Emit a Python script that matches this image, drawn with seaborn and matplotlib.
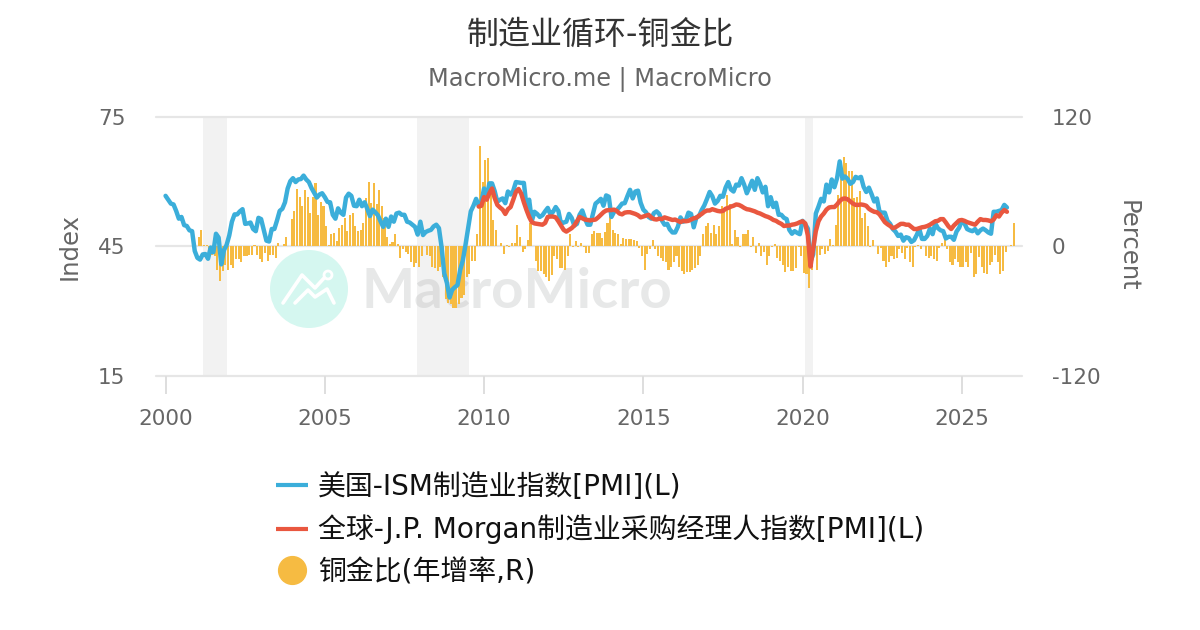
import numpy as np, pandas as pd
import matplotlib
matplotlib.use("Agg")
import matplotlib.pyplot as plt
from matplotlib.lines import Line2D
from matplotlib.patches import Circle
from matplotlib.transforms import IdentityTransform
import seaborn as sns

title = "制造业循环-铜金比"
subtitle = "MacroMicro.me | MacroMicro"
series_names = ["美国-ISM制造业指数[PMI](L)", "全球-J.P. Morgan制造业采购经理人指数[PMI](L)", "铜金比(年增率,R)"]

ism = [
 56.7,55.8,54.9,54.7,53.2,51.4,51.8,49.9,49.7,48.7,48.5,43.9,
 42.3,41.9,43.1,43.2,42.1,44.7,43.6,47.9,47.0,40.8,44.1,45.3,
 47.5,50.7,52.4,52.4,53.1,53.6,50.2,50.3,50.5,49.0,48.5,51.6,
 51.3,48.8,46.3,46.1,49.0,49.0,51.0,53.2,53.7,55.2,58.4,60.1,
 60.8,59.9,60.5,60.6,61.4,60.5,59.9,58.5,57.4,56.3,57.0,57.3,
 56.4,55.3,55.2,52.3,51.4,53.8,52.8,52.3,56.3,57.2,56.7,54.4,
 54.3,55.8,54.3,55.2,53.7,52.0,53.5,52.9,52.2,50.8,49.5,51.4,
 49.5,51.9,50.7,52.6,52.8,52.3,52.3,50.7,50.5,50.0,49.5,47.7,
 50.7,47.6,48.3,48.6,48.8,49.6,50.0,49.2,44.8,38.7,36.5,33.1,
 34.9,35.5,36.0,39.5,41.7,45.3,49.2,53.1,54.4,56.0,54.4,55.3,
 58.4,56.5,59.6,59.6,57.8,55.3,55.8,56.1,55.0,57.7,57.0,57.9,
 59.9,59.8,59.7,59.7,54.2,55.8,50.9,53.0,52.5,51.8,52.2,53.1,
 53.9,52.4,53.0,54.1,53.2,50.2,50.5,50.7,52.5,51.6,49.8,50.2,
 52.3,53.3,51.5,50.0,50.0,52.5,54.9,55.4,56.0,54.4,56.8,56.5,
 51.8,53.0,53.4,54.1,54.9,55.0,56.6,58.1,56.1,57.7,57.9,55.1,
 53.5,52.9,51.8,51.4,52.7,53.1,52.5,51.0,50.0,50.2,48.9,48.2,
 48.2,49.5,51.7,50.7,51.0,52.8,52.5,49.4,51.7,52.0,53.4,54.5,
 56.0,57.6,56.6,54.9,55.5,56.7,56.5,58.6,59.9,58.2,57.7,59.3,
 59.1,60.8,59.3,57.3,58.7,60.2,58.1,60.8,59.5,57.5,58.8,54.3,
 56.4,54.1,55.1,52.3,52.3,51.6,51.3,48.8,47.9,48.5,48.1,47.8,
 50.9,50.1,49.1,41.5,43.1,52.6,54.2,56.0,55.4,59.3,57.5,60.5,
 58.7,60.8,64.7,60.7,61.2,60.6,59.5,59.9,61.1,60.8,61.1,58.8,
 57.6,58.6,57.1,55.4,56.1,53.0,52.8,52.8,50.9,50.2,49.0,48.4,
 47.4,47.7,46.3,47.1,46.9,46.0,46.4,47.6,49.0,46.7,46.7,47.4,
 49.1,47.8,50.3,49.2,48.7,48.5,46.8,47.2,47.2,46.5,48.4,49.3,
 50.9,50.3,49.0,48.7,48.5,49.0,48.0,48.7,49.1,48.7,48.2,47.9,
 53.0,53.0,53.2,53.4,54.6,54.0]

jpm = [
 54.2,54.4,
 56.4,55.8,57.3,58.4,56.2,54.6,54.0,53.5,52.5,53.6,54.1,55.8,
 57.6,58.3,57.2,55.2,53.4,51.8,50.6,50.3,50.2,50.1,50.0,50.4,
 51.8,51.9,51.9,51.7,50.8,49.8,48.8,48.4,48.8,49.2,49.8,50.8,
 51.8,51.5,51.2,51.1,51.0,51.1,51.2,51.7,52.3,52.9,53.3,53.4,
 53.4,53.5,53.2,52.6,52.4,52.8,52.9,52.9,52.7,52.5,52.2,51.7,
 51.9,52.1,52.3,51.7,51.3,51.2,51.4,51.3,51.7,51.5,51.3,51.1,
 51.2,50.9,50.6,50.9,50.8,50.9,51.2,51.5,51.6,52.1,52.5,53.0,
 53.3,53.3,53.6,53.4,53.2,53.1,53.2,53.7,53.9,54.2,54.4,54.7,
 54.6,54.3,53.9,53.6,53.5,53.3,53.1,52.8,52.6,52.3,52.0,51.8,
 51.5,51.1,50.9,50.5,50.2,49.7,49.8,49.8,50.0,50.1,50.3,50.6,
 50.8,50.3,47.5,40.3,44.5,48.5,50.8,51.9,52.6,53.5,54.0,54.1,
 54.1,54.7,55.5,56.0,56.1,55.9,55.4,54.9,54.6,54.6,54.7,54.6,
 54.4,53.7,53.3,53.0,52.9,52.4,51.5,50.6,50.1,49.7,49.2,49.4,
 49.8,50.2,50.2,50.0,50.0,49.5,49.0,49.0,49.2,49.4,49.5,49.7,
 50.0,50.4,50.8,50.9,51.3,51.3,50.5,49.6,49.0,49.8,50.4,51.0,
 51.1,50.9,50.6,50.4,50.2,50.0,50.7,51.3,51.1,51.1,51.0,50.8,
 51.2,52.2,51.9,52.8,53.4,53.0]

copper_gold = [
 9,15,1,1,-4,-8,-9,-22,-32,-23,-17,-22,
 -17,-20,-12,-12,-15,-9,-9,-8,-8,1,-8,-12,
 -15,-6,-14,-8,-8,-11,3,0,2,9,0,25,
 33,53,46,37,52,46,31,46,59,29,41,37,
 19,1,11,12,5,17,20,26,14,29,31,19,
 14,15,22,45,60,40,59,39,52,37,26,9,
 2,4,11,2,-11,-3,-5,-7,-15,-19,-16,-19,
 -9,0,-8,-9,-19,-20,-23,-19,-29,-49,-53,-54,
 -57,-57,-54,-48,-45,-29,-26,-14,-14,11,93,60,
 80,82,60,24,15,0,3,-7,1,-1,3,3,
 20,9,-5,-3,6,22,0,-14,-23,-23,-26,-29,
 -32,-27,-9,-12,-20,-20,-22,-9,11,-1,5,-1,
 3,-1,-6,-6,11,14,12,12,8,13,22,31,
 15,12,11,2,8,7,7,7,6,5,-2,-9,
 -22,-7,-3,6,-3,-9,-11,-14,-15,-22,-19,-15,
 -9,-19,-23,-26,-24,-24,-22,-20,-17,-9,11,19,
 22,12,20,11,19,37,34,48,39,2,15,9,
 -1,11,11,15,-1,9,-6,3,-9,-5,-17,-9,
 -1,2,-11,-14,-17,-24,-19,-23,-23,-20,-1,-9,
 -25,-26,-39,-22,-2,-22,-8,-3,-7,-4,7,1,
 20,48,62,83,77,70,70,45,46,51,26,31,
 19,-1,6,0,-7,-2,-14,-19,-15,-9,-12,-11,
 -3,-6,-12,-2,-15,-19,-1,1,-3,0,-9,-11,
 -9,-12,-14,-2,3,7,-3,-15,-17,-12,-15,-19,
 -19,-15,-19,-6,-29,-26,-10,-19,-25,-26,-17,-15,
 -8,-15,-26,-23,-5,0,1,22]

recessions = [(2001.18, 2001.93), (2007.90, 2009.53), (2020.08, 2020.33)]
year_ticks = [2000, 2005, 2010, 2015, 2020, 2025]
left_ticks = [15, 45, 75]
right_ticks = [-120, 0, 120]

BLUE, RED, GOLD = "#3BAEDA", "#E9573F", "#F6BB42"
TXT = "#666666"

sns.set_theme(style="white")
plt.rcParams["font.family"] = ["DejaVu Sans", "Noto Sans CJK SC"]
plt.rcParams["axes.unicode_minus"] = False

df_ism = pd.DataFrame({"t": 2000 + np.arange(len(ism)) / 12, "v": ism})
df_jpm = pd.DataFrame({"t": 2000 + (118 + np.arange(len(jpm))) / 12, "v": jpm})
df_cg = pd.DataFrame({"t": 2000 + (12.5 + np.arange(len(copper_gold))) / 12, "v": copper_gold})

fig = plt.figure(figsize=(12, 6.3), dpi=100, facecolor="white")
W, H = 1200, 630
box = [156 / W, 1 - 375.5 / H, (1022 - 156) / W, (375.5 - 117) / H]
ax2 = fig.add_axes(box)
ax = ax2.twinx()
ax.set_zorder(ax2.get_zorder() + 1)
ax.patch.set_visible(False)

for a, b in recessions:
    ax2.axvspan(a, b, color="#F2F2F2", lw=0, zorder=0)
for v in right_ticks:
    ax2.axhline(v, color="#E6E6E6", lw=1.6, zorder=0.5, clip_on=False)

# watermark
px = IdentityTransform()
ax2.add_patch(Circle((309, H - 289), 39, transform=px, color="#D5F7F0", lw=0, zorder=0.6))
ax2.add_line(Line2D([283, 302, 315, 325], [H - 303, H - 275, H - 288, H - 277], transform=px, color="white", lw=2.6, zorder=0.7))
ax2.add_line(Line2D([295, 308, 315, 327, 334], [H - 303, H - 290, H - 297, H - 289, H - 303], transform=px, color="white", lw=2.6, zorder=0.7))
ax2.add_patch(Circle((328, H - 275), 4, transform=px, facecolor="#D5F7F0", edgecolor="white", lw=2, zorder=0.8))
ax2.text(517, H - 308, "MacroMicro", transform=px, fontsize=40.6, fontweight="bold", family="Lato", color="#B0B3B3", alpha=0.3,
         ha="center", va="baseline", zorder=0.9, clip_on=False)

sns.barplot(data=df_cg, x="t", y="v", native_scale=True, color=GOLD, saturation=1, width=0.78, ax=ax2, zorder=2,
            errorbar=None, edgecolor=GOLD, linewidth=0)
ax2.set_xlim(1999.70, 2026.89)
ax2.set_ylim(-120, 120)
ax2.set_yticks(right_ticks)
ax2.yaxis.tick_right()
ax2.set_xlabel("")
ax2.set_ylabel("Percent", rotation=270, fontsize=17.5, color=TXT, va="center")
ax2.yaxis.set_label_coords((1128 - 156) / 866, 0.5)
ax2.set_xticks(year_ticks)
ax2.tick_params(axis="x", length=13, width=1.4, color="#DEDEDE", labelcolor=TXT, labelsize=15.5, pad=11, bottom=True)
ax2.tick_params(axis="y", length=0, labelcolor=TXT, labelsize=15.5, pad=21.5)

sns.lineplot(data=df_ism, x="t", y="v", color=BLUE, lw=3.2, ax=ax, errorbar=None, zorder=3)
sns.lineplot(data=df_jpm, x="t", y="v", color=RED, lw=3.2, ax=ax, errorbar=None, zorder=4)
ax.set_xlim(1999.70, 2026.89)
ax.set_ylim(15, 75)
ax.set_yticks(left_ticks)
ax.yaxis.tick_left()
ax.set_ylabel("Index", fontsize=17.5, color=TXT, va="center")
ax.yaxis.set_label_coords((70 - 156) / 866, 0.5)
ax.set_xlabel("")
ax.tick_params(axis="y", length=0, labelcolor=TXT, labelsize=15.5, pad=22)
ax.tick_params(axis="x", length=0, labelbottom=False)
for a_ in (ax, ax2):
    for s in a_.spines.values():
        s.set_visible(False)

fig.text(600 / W, 1 - 35 / H, title, fontsize=23, color="#333333", ha="center", va="center")
fig.text(600 / W, 1 - 80 / H, subtitle, fontsize=17.25, color=TXT, ha="center", va="center")

handles = [Line2D([], [], color=BLUE, lw=3, solid_capstyle="butt"), Line2D([], [], color=RED, lw=3, solid_capstyle="butt"),
           Line2D([], [], color=GOLD, marker="o", ms=20, lw=0)]
fig.legend(handles, series_names, loc="upper left", bbox_to_anchor=(276 / W, 1 - 473 / H), frameon=False,
           fontsize=20.1, labelcolor="#111111", handlelength=1.15, handletextpad=0.36, labelspacing=0.49, borderpad=0, borderaxespad=0)

fig.savefig("out.png", dpi=100)
